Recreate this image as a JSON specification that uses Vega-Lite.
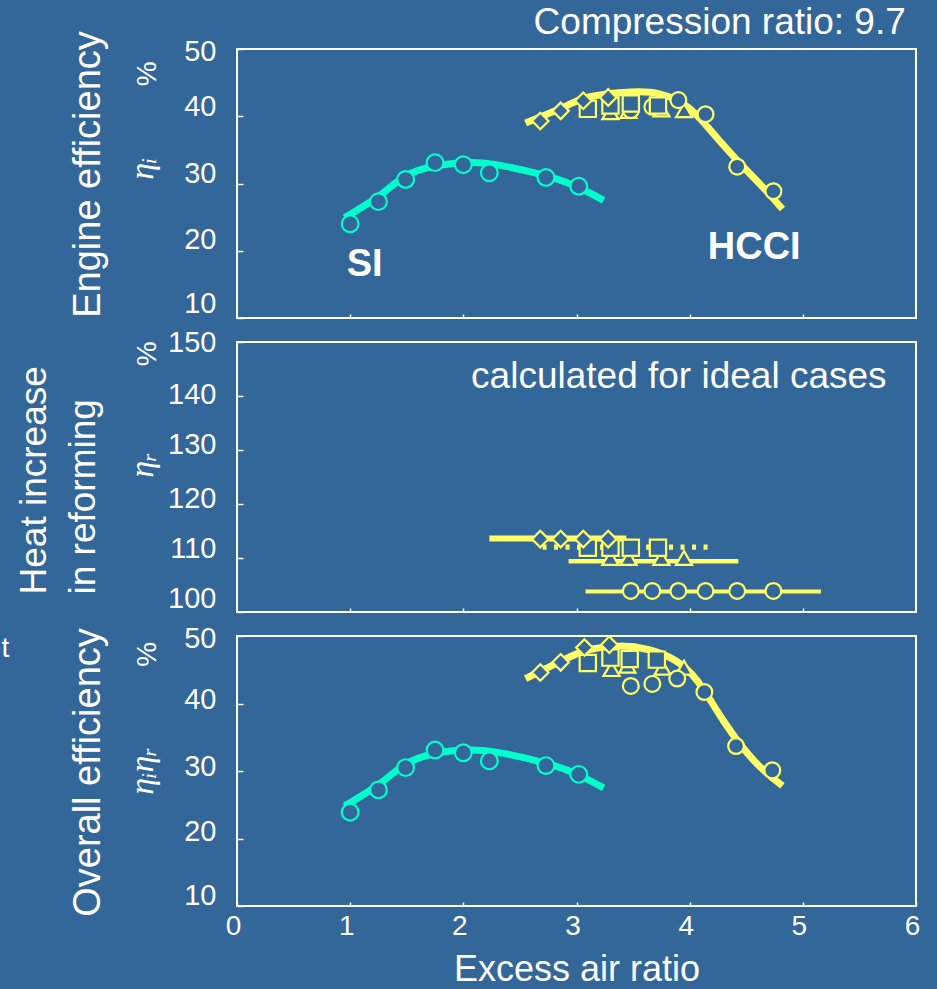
{
  "$schema": "https://vega.github.io/schema/vega-lite/v6.json",
  "background": "#336699",
  "padding": {"left": 0, "top": 2, "right": 24, "bottom": 12},
  "config": {
    "view": {"stroke": "white", "strokeWidth": 2},
    "font": "Liberation Sans",
    "axis": {"domain": false, "grid": false, "tickColor": "white", "tickWidth": 1.5, "labelColor": "white", "labelFont": "Liberation Sans", "labelFontSize": 29, "titleColor": "white", "titleFont": "Liberation Sans", "titleFontWeight": "normal", "labelFlush": false, "labelOverlap": false, "format": "d"}
  },
  "datasets": {
    "pts": [
      {"panel": 1, "group": "SI", "series": "SI", "x": 1.00, "y": 24.0},
      {"panel": 1, "group": "SI", "series": "SI", "x": 1.25, "y": 27.3},
      {"panel": 1, "group": "SI", "series": "SI", "x": 1.49, "y": 30.6},
      {"panel": 1, "group": "SI", "series": "SI", "x": 1.75, "y": 33.1},
      {"panel": 1, "group": "SI", "series": "SI", "x": 2.00, "y": 32.8},
      {"panel": 1, "group": "SI", "series": "SI", "x": 2.23, "y": 31.6},
      {"panel": 1, "group": "SI", "series": "SI", "x": 2.73, "y": 30.9},
      {"panel": 1, "group": "SI", "series": "SI", "x": 3.02, "y": 29.6},
      {"panel": 1, "group": "HCCI", "series": "triangle", "x": 3.30, "y": 40.6},
      {"panel": 1, "group": "HCCI", "series": "triangle", "x": 3.46, "y": 40.8},
      {"panel": 1, "group": "HCCI", "series": "triangle", "x": 3.75, "y": 41.0},
      {"panel": 1, "group": "HCCI", "series": "triangle", "x": 3.95, "y": 40.9},
      {"panel": 1, "group": "HCCI", "series": "circle", "x": 3.48, "y": 40.9},
      {"panel": 1, "group": "HCCI", "series": "circle", "x": 3.67, "y": 41.4},
      {"panel": 1, "group": "HCCI", "series": "circle", "x": 3.90, "y": 42.4},
      {"panel": 1, "group": "HCCI", "series": "circle", "x": 4.14, "y": 40.3},
      {"panel": 1, "group": "HCCI", "series": "circle", "x": 4.42, "y": 32.5},
      {"panel": 1, "group": "HCCI", "series": "circle", "x": 4.74, "y": 28.85},
      {"panel": 1, "group": "HCCI", "series": "square", "x": 3.10, "y": 41.1},
      {"panel": 1, "group": "HCCI", "series": "square", "x": 3.30, "y": 41.6},
      {"panel": 1, "group": "HCCI", "series": "square", "x": 3.48, "y": 41.9},
      {"panel": 1, "group": "HCCI", "series": "square", "x": 3.72, "y": 41.6},
      {"panel": 1, "group": "HCCI", "series": "diamond", "x": 2.68, "y": 39.3},
      {"panel": 1, "group": "HCCI", "series": "diamond", "x": 2.86, "y": 40.8},
      {"panel": 1, "group": "HCCI", "series": "diamond", "x": 3.06, "y": 42.3},
      {"panel": 1, "group": "HCCI", "series": "diamond", "x": 3.28, "y": 42.8},
      {"panel": 2, "group": "HCCI", "series": "triangle", "x": 3.30, "y": 110.0},
      {"panel": 2, "group": "HCCI", "series": "triangle", "x": 3.46, "y": 110.0},
      {"panel": 2, "group": "HCCI", "series": "triangle", "x": 3.75, "y": 110.0},
      {"panel": 2, "group": "HCCI", "series": "triangle", "x": 3.95, "y": 110.0},
      {"panel": 2, "group": "HCCI", "series": "circle", "x": 3.48, "y": 103.9},
      {"panel": 2, "group": "HCCI", "series": "circle", "x": 3.67, "y": 103.9},
      {"panel": 2, "group": "HCCI", "series": "circle", "x": 3.90, "y": 103.9},
      {"panel": 2, "group": "HCCI", "series": "circle", "x": 4.14, "y": 103.9},
      {"panel": 2, "group": "HCCI", "series": "circle", "x": 4.42, "y": 103.9},
      {"panel": 2, "group": "HCCI", "series": "circle", "x": 4.74, "y": 103.9},
      {"panel": 2, "group": "HCCI", "series": "square", "x": 3.10, "y": 111.9},
      {"panel": 2, "group": "HCCI", "series": "square", "x": 3.30, "y": 111.9},
      {"panel": 2, "group": "HCCI", "series": "square", "x": 3.48, "y": 111.9},
      {"panel": 2, "group": "HCCI", "series": "square", "x": 3.72, "y": 111.9},
      {"panel": 2, "group": "HCCI", "series": "diamond", "x": 2.68, "y": 113.5},
      {"panel": 2, "group": "HCCI", "series": "diamond", "x": 2.86, "y": 113.5},
      {"panel": 2, "group": "HCCI", "series": "diamond", "x": 3.06, "y": 113.5},
      {"panel": 2, "group": "HCCI", "series": "diamond", "x": 3.28, "y": 113.5},
      {"panel": 3, "group": "SI", "series": "SI", "x": 1.00, "y": 23.9},
      {"panel": 3, "group": "SI", "series": "SI", "x": 1.25, "y": 27.2},
      {"panel": 3, "group": "SI", "series": "SI", "x": 1.49, "y": 30.5},
      {"panel": 3, "group": "SI", "series": "SI", "x": 1.75, "y": 33.1},
      {"panel": 3, "group": "SI", "series": "SI", "x": 2.00, "y": 32.7},
      {"panel": 3, "group": "SI", "series": "SI", "x": 2.23, "y": 31.5},
      {"panel": 3, "group": "SI", "series": "SI", "x": 2.73, "y": 30.8},
      {"panel": 3, "group": "SI", "series": "SI", "x": 3.02, "y": 29.5},
      {"panel": 3, "group": "HCCI", "series": "triangle", "x": 3.31, "y": 45.1},
      {"panel": 3, "group": "HCCI", "series": "triangle", "x": 3.45, "y": 45.6},
      {"panel": 3, "group": "HCCI", "series": "triangle", "x": 3.76, "y": 45.3},
      {"panel": 3, "group": "HCCI", "series": "triangle", "x": 3.95, "y": 45.3},
      {"panel": 3, "group": "HCCI", "series": "circle", "x": 3.48, "y": 42.6},
      {"panel": 3, "group": "HCCI", "series": "circle", "x": 3.67, "y": 42.9},
      {"panel": 3, "group": "HCCI", "series": "circle", "x": 3.89, "y": 43.7},
      {"panel": 3, "group": "HCCI", "series": "circle", "x": 4.13, "y": 41.7},
      {"panel": 3, "group": "HCCI", "series": "circle", "x": 4.41, "y": 33.7},
      {"panel": 3, "group": "HCCI", "series": "circle", "x": 4.73, "y": 30.1},
      {"panel": 3, "group": "HCCI", "series": "square", "x": 3.10, "y": 46.0},
      {"panel": 3, "group": "HCCI", "series": "square", "x": 3.30, "y": 46.8},
      {"panel": 3, "group": "HCCI", "series": "square", "x": 3.47, "y": 46.6},
      {"panel": 3, "group": "HCCI", "series": "square", "x": 3.71, "y": 46.5},
      {"panel": 3, "group": "HCCI", "series": "diamond", "x": 2.68, "y": 44.6},
      {"panel": 3, "group": "HCCI", "series": "diamond", "x": 2.86, "y": 46.1},
      {"panel": 3, "group": "HCCI", "series": "diamond", "x": 3.07, "y": 48.3},
      {"panel": 3, "group": "HCCI", "series": "diamond", "x": 3.29, "y": 48.7}
    ],
    "curves": [
      {"panel": 1, "group": "SI", "x": 0.95, "y": 24.9},
      {"panel": 1, "group": "SI", "x": 1.26, "y": 28.2},
      {"panel": 1, "group": "SI", "x": 1.49, "y": 31.1},
      {"panel": 1, "group": "SI", "x": 1.75, "y": 32.6},
      {"panel": 1, "group": "SI", "x": 2.01, "y": 33.1},
      {"panel": 1, "group": "SI", "x": 2.29, "y": 32.8},
      {"panel": 1, "group": "SI", "x": 2.74, "y": 31.1},
      {"panel": 1, "group": "SI", "x": 3.02, "y": 29.4},
      {"panel": 1, "group": "SI", "x": 3.24, "y": 27.5},
      {"panel": 1, "group": "HCCI", "x": 2.55, "y": 39.0},
      {"panel": 1, "group": "HCCI", "x": 2.89, "y": 41.4},
      {"panel": 1, "group": "HCCI", "x": 3.12, "y": 42.9},
      {"panel": 1, "group": "HCCI", "x": 3.48, "y": 43.6},
      {"panel": 1, "group": "HCCI", "x": 3.74, "y": 43.3},
      {"panel": 1, "group": "HCCI", "x": 3.98, "y": 41.4},
      {"panel": 1, "group": "HCCI", "x": 4.21, "y": 37.4},
      {"panel": 1, "group": "HCCI", "x": 4.45, "y": 32.9},
      {"panel": 1, "group": "HCCI", "x": 4.65, "y": 29.4},
      {"panel": 1, "group": "HCCI", "x": 4.82, "y": 26.2},
      {"panel": 3, "group": "SI", "x": 0.95, "y": 24.8},
      {"panel": 3, "group": "SI", "x": 1.26, "y": 28.1},
      {"panel": 3, "group": "SI", "x": 1.49, "y": 31.0},
      {"panel": 3, "group": "SI", "x": 1.75, "y": 32.6},
      {"panel": 3, "group": "SI", "x": 2.01, "y": 33.1},
      {"panel": 3, "group": "SI", "x": 2.29, "y": 32.8},
      {"panel": 3, "group": "SI", "x": 2.74, "y": 31.1},
      {"panel": 3, "group": "SI", "x": 3.02, "y": 29.4},
      {"panel": 3, "group": "SI", "x": 3.24, "y": 27.5},
      {"panel": 3, "group": "HCCI", "x": 2.55, "y": 43.7},
      {"panel": 3, "group": "HCCI", "x": 2.89, "y": 46.5},
      {"panel": 3, "group": "HCCI", "x": 3.12, "y": 48.0},
      {"panel": 3, "group": "HCCI", "x": 3.39, "y": 48.5},
      {"panel": 3, "group": "HCCI", "x": 3.63, "y": 48.0},
      {"panel": 3, "group": "HCCI", "x": 3.86, "y": 46.5},
      {"panel": 3, "group": "HCCI", "x": 4.07, "y": 43.3},
      {"panel": 3, "group": "HCCI", "x": 4.30, "y": 37.4},
      {"panel": 3, "group": "HCCI", "x": 4.57, "y": 31.5},
      {"panel": 3, "group": "HCCI", "x": 4.82, "y": 27.8}
    ],
    "segs": [
      {"series": "diamond", "x": 2.23, "y": 113.6},
      {"series": "diamond", "x": 3.44, "y": 113.6},
      {"series": "square", "x": 2.70, "y": 112.0},
      {"series": "square", "x": 4.17, "y": 112.0},
      {"series": "triangle", "x": 2.93, "y": 109.4},
      {"series": "triangle", "x": 4.43, "y": 109.4},
      {"series": "circle", "x": 3.08, "y": 103.8},
      {"series": "circle", "x": 5.16, "y": 103.8}
    ]
  },
  "vconcat": [
    {
      "width": 679, "height": 269,
      "layer": [
        {"data": {"name": "curves"}, "transform": [{"filter": "datum.panel == 1"}],
         "mark": {"type": "line", "strokeWidth": 7, "interpolate": "natural"},
         "encoding": {
           "x": {"field": "x", "type": "quantitative", "scale": {"domain": [0, 6], "nice": false},
                 "axis": {"values": [1, 2, 3, 4, 5], "labels": false, "tickSize": -4, "title": null}},
           "y": {"field": "y", "type": "quantitative", "scale": {"domain": [10, 50], "nice": false},
                 "axis": {"values": [10, 20, 30, 40, 50], "tickSize": -6, "labelPadding": 27,
                          "labelOffset": {"expr": "datum.value == 50 ? 2 : datum.value == 40 ? -10 : datum.value == 30 ? -10 : datum.value == 20 ? -11 : -15"},
                          "title": "Engine efficiency", "titleFontSize": 38, "titleAngle": 270, "titleX": -149, "titleY": 125, "titleAlign": "center", "titleBaseline": "middle"}},
           "color": {"field": "group", "type": "nominal", "scale": {"domain": ["SI", "HCCI"], "range": ["#00FFCC", "#FFFF66"]}, "legend": null},
           "detail": {"field": "group"}}},
        {"data": {"name": "pts"}, "transform": [{"filter": "datum.panel == 1"}],
         "mark": {"type": "point", "filled": false, "fill": "#336699", "fillOpacity": 1, "strokeWidth": 2.2, "opacity": 1},
         "encoding": {
           "x": {"field": "x", "type": "quantitative"},
           "y": {"field": "y", "type": "quantitative"},
           "color": {"field": "group", "type": "nominal", "scale": {"domain": ["SI", "HCCI"], "range": ["#00FFCC", "#FFFF66"]}, "legend": null},
           "shape": {"field": "series", "type": "nominal", "scale": {"domain": ["SI", "diamond", "square", "triangle", "circle"], "range": ["circle", "diamond", "square", "triangle-up", "circle"]}, "legend": null},
           "size": {"field": "series", "type": "nominal", "scale": {"domain": ["SI", "diamond", "square", "triangle", "circle"], "range": [280, 250, 225, 260, 280]}, "legend": null}}},
        {"data": {"values": [{}]},
         "mark": {"type": "text", "text": "ηᵢ", "angle": 270, "font": "Liberation Serif", "fontStyle": "italic", "fontSize": 34, "fill": "white", "align": "center", "baseline": "middle"},
         "encoding": {"x": {"datum": -0.83, "type": "quantitative"}, "y": {"datum": 32.2, "type": "quantitative"}}},
        {"data": {"values": [{}]},
         "mark": {"type": "text", "text": "%", "angle": 270, "fontSize": 28, "fill": "white", "align": "center", "baseline": "middle"},
         "encoding": {"x": {"datum": -0.79, "type": "quantitative"}, "y": {"datum": 46.3, "type": "quantitative"}}},
        {"data": {"values": [{}]},
         "mark": {"type": "text", "text": "SI", "fontSize": 38, "fontWeight": "bold", "fill": "white", "align": "left", "baseline": "alphabetic"},
         "encoding": {"x": {"datum": 0.97, "type": "quantitative"}, "y": {"datum": 16.2, "type": "quantitative"}}},
        {"data": {"values": [{}]},
         "mark": {"type": "text", "text": "HCCI", "fontSize": 38, "fontWeight": "bold", "fill": "white", "align": "left", "baseline": "alphabetic"},
         "encoding": {"x": {"datum": 4.16, "type": "quantitative"}, "y": {"datum": 18.7, "type": "quantitative"}}},
        {"data": {"values": [{}]},
         "mark": {"type": "text", "text": "Compression ratio: 9.7", "fontSize": 37, "fill": "white", "align": "right", "baseline": "alphabetic"},
         "encoding": {"x": {"datum": 5.91, "type": "quantitative"}, "y": {"datum": 52.3, "type": "quantitative"}}}
      ]
    },
    {
      "width": 679, "height": 270,
      "layer": [
        {"data": {"name": "segs"},
         "mark": {"type": "line", "color": "#FFFF66"},
         "encoding": {
           "x": {"field": "x", "type": "quantitative", "scale": {"domain": [0, 6], "nice": false},
                 "axis": {"values": [1, 2, 3, 4, 5], "labels": false, "tickSize": -4, "title": null}},
           "y": {"field": "y", "type": "quantitative", "scale": {"domain": [100, 150], "nice": false},
                 "axis": {"values": [100, 110, 120, 130, 140, 150], "tickSize": -6, "labelPadding": 27,
                          "labelOffset": {"expr": "datum.value == 150 ? 0 : datum.value == 140 ? -2 : datum.value == 130 ? -6 : datum.value == 120 ? -6 : datum.value == 110 ? -10 : -14"},
                          "title": ["Heat increase", "in reforming"], "titleFontSize": 37, "titleLineHeight": 49, "titleAngle": 270, "titleX": -203, "titleY": 252, "titleAlign": "left", "titleBaseline": "middle"}},
           "detail": {"field": "series"},
           "strokeDash": {"field": "series", "type": "nominal", "scale": {"domain": ["diamond", "square", "triangle", "circle"], "range": [[1, 0], [4, 7.5], [1, 0], [1, 0]]}, "legend": null},
           "strokeWidth": {"field": "series", "type": "nominal", "scale": {"domain": ["diamond", "square", "triangle", "circle"], "range": [6, 4, 6, 6]}, "legend": null}}},
        {"data": {"name": "pts"}, "transform": [{"filter": "datum.panel == 2"}],
         "mark": {"type": "point", "filled": false, "fill": "#336699", "fillOpacity": 1, "strokeWidth": 2.2, "opacity": 1},
         "encoding": {
           "x": {"field": "x", "type": "quantitative"},
           "y": {"field": "y", "type": "quantitative"},
           "color": {"field": "group", "type": "nominal", "scale": {"domain": ["SI", "HCCI"], "range": ["#00FFCC", "#FFFF66"]}, "legend": null},
           "shape": {"field": "series", "type": "nominal", "scale": {"domain": ["SI", "diamond", "square", "triangle", "circle"], "range": ["circle", "diamond", "square", "triangle-up", "circle"]}, "legend": null},
           "size": {"field": "series", "type": "nominal", "scale": {"domain": ["SI", "diamond", "square", "triangle", "circle"], "range": [280, 250, 225, 240, 260]}, "legend": null}}},
        {"data": {"values": [{}]},
         "mark": {"type": "text", "text": "ηᵣ", "angle": 270, "font": "Liberation Serif", "fontStyle": "italic", "fontSize": 34, "fill": "white", "align": "center", "baseline": "middle"},
         "encoding": {"x": {"datum": -0.83, "type": "quantitative"}, "y": {"datum": 127.2, "type": "quantitative"}}},
        {"data": {"values": [{}]},
         "mark": {"type": "text", "text": "%", "angle": 270, "fontSize": 28, "fill": "white", "align": "center", "baseline": "middle"},
         "encoding": {"x": {"datum": -0.79, "type": "quantitative"}, "y": {"datum": 147.8, "type": "quantitative"}}},
        {"data": {"values": [{}]},
         "mark": {"type": "text", "text": "calculated for ideal cases", "fontSize": 37, "fill": "white", "align": "right", "baseline": "alphabetic"},
         "encoding": {"x": {"datum": 5.74, "type": "quantitative"}, "y": {"datum": 141.45, "type": "quantitative"}}}
      ]
    },
    {
      "width": 679, "height": 270,
      "layer": [
        {"data": {"name": "curves"}, "transform": [{"filter": "datum.panel == 3"}],
         "mark": {"type": "line", "strokeWidth": 7, "interpolate": "natural"},
         "encoding": {
           "x": {"field": "x", "type": "quantitative", "scale": {"domain": [0, 6], "nice": false},
                 "axis": {"values": [0, 1, 2, 3, 4, 5, 6], "tickSize": -4, "labelPadding": 10, "labelOffset": -4, "labelFontSize": 28, "format": "d",
                          "title": "Excess air ratio", "titleFontSize": 36, "titlePadding": 12}},
           "y": {"field": "y", "type": "quantitative", "scale": {"domain": [10, 50], "nice": false},
                 "axis": {"values": [10, 20, 30, 40, 50], "tickSize": -6, "labelPadding": 27,
                          "labelOffset": {"expr": "datum.value == 50 ? 2 : datum.value == 40 ? -4 : datum.value == 30 ? -5 : datum.value == 20 ? -7 : -11"},
                          "title": "Overall efficiency", "titleFontSize": 38, "titleAngle": 270, "titleX": -149, "titleY": 136, "titleAlign": "center", "titleBaseline": "middle"}},
           "color": {"field": "group", "type": "nominal", "scale": {"domain": ["SI", "HCCI"], "range": ["#00FFCC", "#FFFF66"]}, "legend": null},
           "detail": {"field": "group"}}},
        {"data": {"name": "pts"}, "transform": [{"filter": "datum.panel == 3"}],
         "mark": {"type": "point", "filled": false, "fill": "#336699", "fillOpacity": 1, "strokeWidth": 2.2, "opacity": 1},
         "encoding": {
           "x": {"field": "x", "type": "quantitative"},
           "y": {"field": "y", "type": "quantitative"},
           "color": {"field": "group", "type": "nominal", "scale": {"domain": ["SI", "HCCI"], "range": ["#00FFCC", "#FFFF66"]}, "legend": null},
           "shape": {"field": "series", "type": "nominal", "scale": {"domain": ["SI", "diamond", "square", "triangle", "circle"], "range": ["circle", "diamond", "square", "triangle-up", "circle"]}, "legend": null},
           "size": {"field": "series", "type": "nominal", "scale": {"domain": ["SI", "diamond", "square", "triangle", "circle"], "range": [280, 250, 225, 260, 280]}, "legend": null}}},
        {"data": {"values": [{}]},
         "mark": {"type": "text", "text": "ηᵢηᵣ", "angle": 270, "font": "Liberation Serif", "fontStyle": "italic", "fontSize": 34, "fill": "white", "align": "center", "baseline": "middle"},
         "encoding": {"x": {"datum": -0.83, "type": "quantitative"}, "y": {"datum": 30.0, "type": "quantitative"}}},
        {"data": {"values": [{}]},
         "mark": {"type": "text", "text": "%", "angle": 270, "fontSize": 28, "fill": "white", "align": "center", "baseline": "middle"},
         "encoding": {"x": {"datum": -0.79, "type": "quantitative"}, "y": {"datum": 47.3, "type": "quantitative"}}},
        {"data": {"values": [{}]},
         "mark": {"type": "text", "text": "t", "fontSize": 28, "fill": "white", "align": "left", "baseline": "middle"},
         "encoding": {"x": {"datum": -2.08, "type": "quantitative"}, "y": {"datum": 48.1, "type": "quantitative"}}}
      ]
    }
  ],
  "spacing": 24,
  "bounds": "flush"
}
